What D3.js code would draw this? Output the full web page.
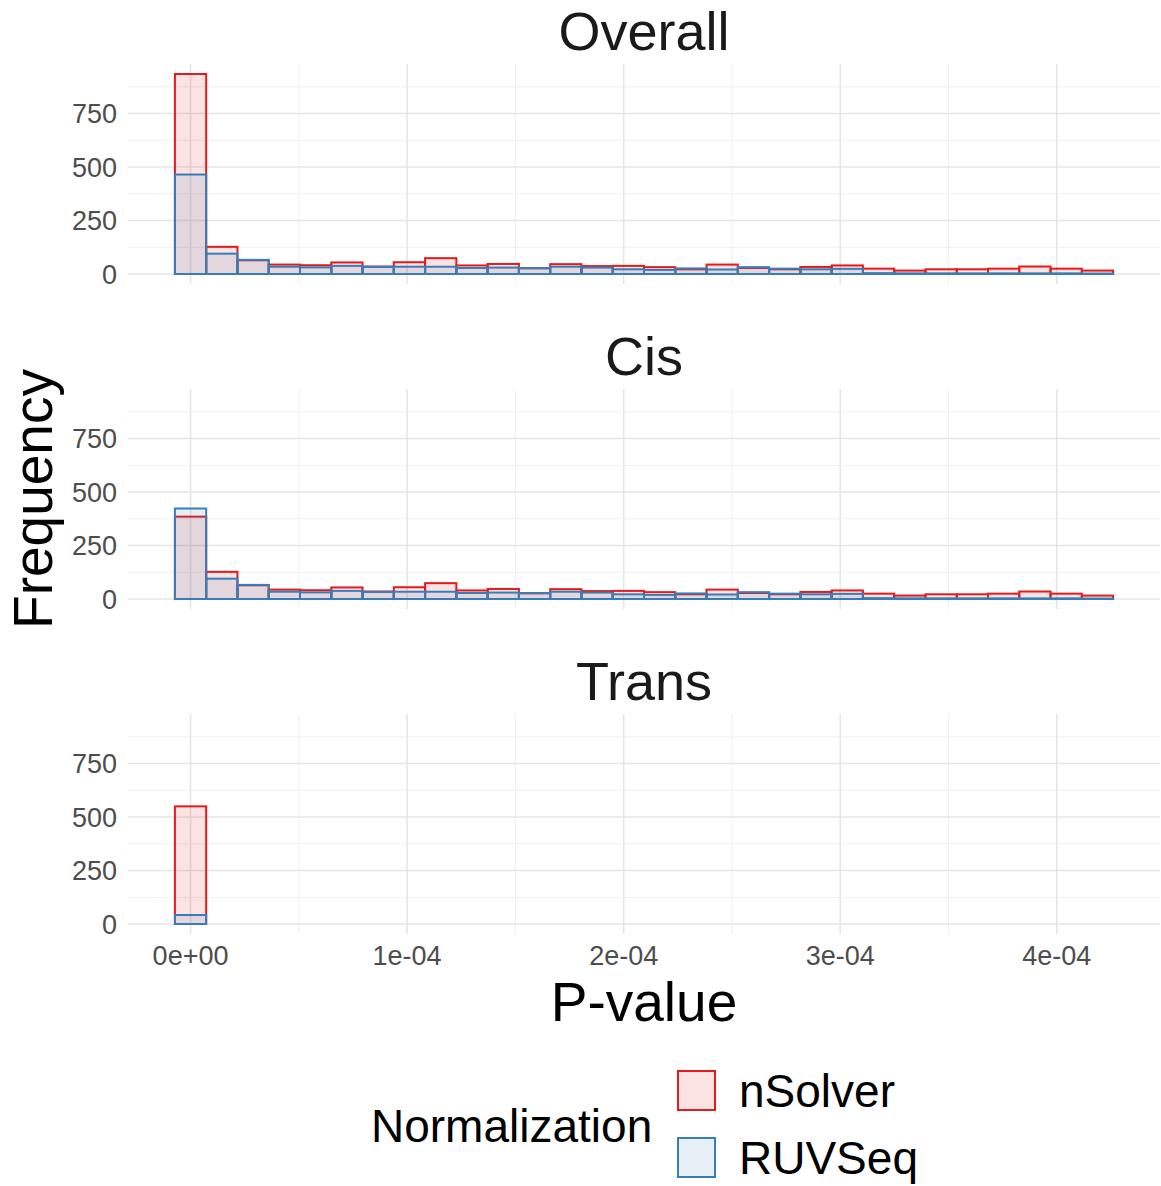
<!DOCTYPE html>
<html>
<head>
<meta charset="utf-8">
<script src="https://cdnjs.cloudflare.com/ajax/libs/d3/7.8.5/d3.min.js"></script>
<style>
  body { margin: 0; background: #fff; }
  text { font-family: "Liberation Sans", Arial, sans-serif; }
</style>
</head>
<body>
<div id="chart"></div>
<script>
// data (counts per p-value bin, 30 bins centred on 0)
const binWidth = 1.444e-5;
const facets = ["Overall", "Cis", "Trans"];
const groups = ["nSolver", "RUVSeq"];

const overallNSolver = [935, 127, 64, 44, 41, 54, 35, 55, 74, 40, 47, 27, 46, 37, 38,
                        32, 22, 44, 28, 22, 33, 40, 25, 16, 22, 22, 25, 35, 25, 16];
const overallRUVSeq  = [465, 95, 66, 34, 31, 38, 33, 34, 34, 28, 30, 27, 34, 30, 22,
                        19, 26, 21, 32, 25, 22, 24, 4, 3, 3, 3, 3, 3, 3, 2];
const cisNSolver     = [385, 127, 64, 44, 41, 54, 35, 55, 74, 40, 47, 27, 46, 37, 38,
                        32, 22, 44, 28, 22, 33, 40, 25, 16, 22, 22, 25, 35, 25, 16];
const cisRUVSeq      = [423, 95, 66, 34, 31, 38, 33, 34, 34, 28, 30, 27, 34, 30, 22,
                        19, 26, 21, 32, 25, 22, 24, 4, 3, 3, 3, 3, 3, 3, 2];
const transNSolver   = [550, 0, 0, 0, 0, 0, 0, 0, 0, 0, 0, 0, 0, 0, 0,
                        0, 0, 0, 0, 0, 0, 0, 0, 0, 0, 0, 0, 0, 0, 0];
const transRUVSeq    = [42, 0, 0, 0, 0, 0, 0, 0, 0, 0, 0, 0, 0, 0, 0,
                        0, 0, 0, 0, 0, 0, 0, 0, 0, 0, 0, 0, 0, 0, 0];

const xTicks = [0, 1e-4, 2e-4, 3e-4, 4e-4];
const xTickLabels = ["0e+00", "1e-04", "2e-04", "3e-04", "4e-04"];
const yTicks = [0, 250, 500, 750];

const counts = {
    Overall: [overallNSolver, overallRUVSeq],
    Cis: [cisNSolver, cisRUVSeq],
    Trans: [transNSolver, transRUVSeq]
};

// setup
const W = 1161, H = 1186;
const panelLeft = 128, panelRight = 1160;
const panelTops = [64, 389, 714];
const panelH = 220;
const colors = { nSolver: "#E41A1C", RUVSeq: "#377EB8" };
const fillAlpha = 0.12;

const svg = d3.select("#chart").append("svg")
    .attr("width", W)
    .attr("height", H);

const nBins = overallNSolver.length;
const xMin = -binWidth / 2, xMax = (nBins - 0.5) * binWidth;
const xPad = (xMax - xMin) * 0.05;
const x = d3.scaleLinear()
    .domain([xMin - xPad, xMax + xPad])
    .range([panelLeft, panelRight]);

const yMaxData = d3.max(Object.values(counts).flat(2));
const y = d3.scaleLinear()
    .domain([-yMaxData * 0.05, yMaxData * 1.05])
    .range([panelH, 0]);

const xMinor = d3.range(0.5e-4, 4.5e-4, 1e-4);
const yMinor = [125, 375, 625, 875];

facets.forEach(function (f, fi) {
    const g = svg.append("g")
        .attr("transform", "translate(0," + panelTops[fi] + ")");

    // grid
    g.selectAll(".ymin").data(yMinor).enter().append("line")
        .attr("x1", panelLeft).attr("x2", panelRight)
        .attr("y1", d => y(d)).attr("y2", d => y(d))
        .attr("stroke", "#f0f0f0").attr("stroke-width", 1);
    g.selectAll(".xmin").data(xMinor).enter().append("line")
        .attr("x1", d => x(d)).attr("x2", d => x(d))
        .attr("y1", 0).attr("y2", panelH)
        .attr("stroke", "#f0f0f0").attr("stroke-width", 1);
    g.selectAll(".ymaj").data(yTicks).enter().append("line")
        .attr("x1", panelLeft).attr("x2", panelRight)
        .attr("y1", d => y(d)).attr("y2", d => y(d))
        .attr("stroke", "#e6e6e6").attr("stroke-width", 1.6);
    g.selectAll(".xmaj").data(xTicks).enter().append("line")
        .attr("x1", d => x(d)).attr("x2", d => x(d))
        .attr("y1", 0).attr("y2", panelH)
        .attr("stroke", "#e6e6e6").attr("stroke-width", 1.6);

    // bars, nSolver first then RUVSeq on top
    groups.forEach(function (grp, gi) {
        const vals = counts[f][gi];
        g.selectAll(".bar" + gi).data(vals).enter().append("rect")
            .attr("x", (d, i) => x(i * binWidth - binWidth / 2))
            .attr("width", x(binWidth) - x(0))
            .attr("y", d => y(d))
            .attr("height", d => y(0) - y(d))
            .attr("fill", colors[grp])
            .attr("fill-opacity", fillAlpha)
            .attr("stroke", colors[grp])
            .attr("stroke-width", 2);
    });

    // y tick labels
    g.selectAll(".ylab").data(yTicks).enter().append("text")
        .attr("x", 117)
        .attr("y", d => y(d))
        .attr("dy", "0.36em")
        .attr("text-anchor", "end")
        .attr("font-size", 27)
        .attr("fill", "#4d4d4d")
        .text(d => d);

    // strip title
    svg.append("text")
        .attr("x", (panelLeft + panelRight) / 2)
        .attr("y", panelTops[fi] - 14)
        .attr("text-anchor", "middle")
        .attr("font-size", 54)
        .attr("fill", "#1a1a1a")
        .text(f);
});

// x tick labels under last panel
svg.selectAll(".xlab").data(xTicks).enter().append("text")
    .attr("x", d => x(d))
    .attr("y", panelTops[2] + panelH + 31)
    .attr("text-anchor", "middle")
    .attr("font-size", 27)
    .attr("fill", "#4d4d4d")
    .text((d, i) => xTickLabels[i]);

// axis titles
svg.append("text")
    .attr("x", (panelLeft + panelRight) / 2)
    .attr("y", 1021)
    .attr("text-anchor", "middle")
    .attr("font-size", 55)
    .text("P-value");

svg.append("text")
    .attr("transform", "translate(52,499) rotate(-90)")
    .attr("text-anchor", "middle")
    .attr("font-size", 55)
    .text("Frequency");

// legend
const legend = svg.append("g");
legend.append("text")
    .attr("x", 371)
    .attr("y", 1142)
    .attr("font-size", 46)
    .text("Normalization");

groups.forEach(function (grp, i) {
    const ky = 1071 + i * 67;
    legend.append("rect")
        .attr("x", 678).attr("y", ky)
        .attr("width", 37).attr("height", 39)
        .attr("fill", colors[grp])
        .attr("fill-opacity", fillAlpha)
        .attr("stroke", colors[grp])
        .attr("stroke-width", 2);
    legend.append("text")
        .attr("x", 739)
        .attr("y", ky + 36)
        .attr("font-size", 46)
        .text(grp);
});
</script>
</body>
</html>
